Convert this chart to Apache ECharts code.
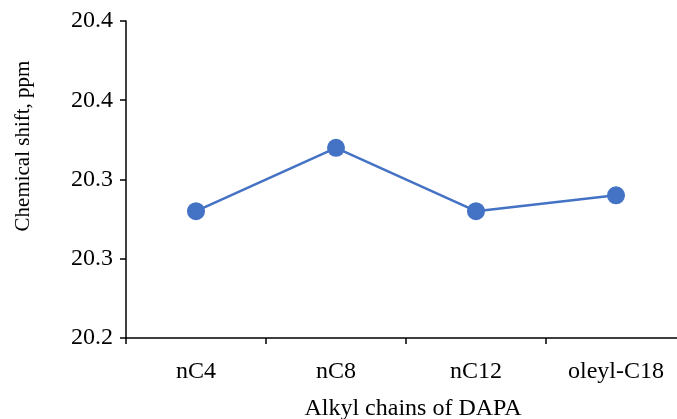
<!DOCTYPE html>
<html>
<head>
<meta charset="utf-8">
<script src="https://cdn.jsdelivr.net/npm/echarts@6/dist/echarts.min.js"></script>
<style>
html,body{margin:0;padding:0;background:#fff;}
#chart{width:677px;height:419px;}
</style>
</head>
<body>
<div id="chart"></div>
<script>
const categories = ['nC4', 'nC8', 'nC12', 'oleyl-C18'];
const chemicalShift = [20.28, 20.32, 20.28, 20.29];
const yMin = 20.2, yMax = 20.4, yStep = 0.05;
const xTitle = 'Alkyl chains of DAPA';
const yTitle = 'Chemical shift, ppm';

const FONT = '"Liberation Serif", "Times New Roman", serif';
const chart = echarts.init(document.getElementById('chart'));
chart.setOption({
  animation: false,
  backgroundColor: '#ffffff',
  grid: { left: 126, top: 21, height: 317, width: 560, containLabel: false, outerBoundsMode: 'none' },
  xAxis: {
    type: 'category',
    data: categories,
    boundaryGap: true,
    axisLine: { show: true, lineStyle: { color: '#000', width: 1.5 } },
    axisTick: { show: true, inside: false, length: 6, alignWithLabel: false, lineStyle: { color: '#000', width: 1.5 } },
    axisLabel: { color: '#000', fontFamily: FONT, fontSize: 24, margin: 22 },
    splitLine: { show: false }
  },
  yAxis: {
    type: 'value',
    min: yMin, max: yMax, interval: yStep,
    axisLine: { show: true, lineStyle: { color: '#000', width: 1.5 } },
    axisTick: { show: true, inside: false, length: 6, lineStyle: { color: '#000', width: 1.5 } },
    axisLabel: { color: '#000', fontFamily: FONT, fontSize: 24, margin: 13,
      formatter: v => v.toFixed(1) },
    splitLine: { show: false }
  },
  graphic: [
    { type: 'text', x: 413, y: 409,
      style: { text: xTitle, fill: '#000', font: '24px ' + FONT, textAlign: 'center', textVerticalAlign: 'middle' } },
    { type: 'text', x: 23, y: 146, rotation: Math.PI / 2,
      style: { text: yTitle, fill: '#000', font: '21px ' + FONT, textAlign: 'center', textVerticalAlign: 'middle' } }
  ],
  series: [{
    type: 'line',
    data: chemicalShift,
    symbol: 'circle',
    symbolSize: 18,
    itemStyle: { color: '#4472C4' },
    lineStyle: { color: '#4472C4', width: 2.5 }
  }]
});
</script>
</body>
</html>
